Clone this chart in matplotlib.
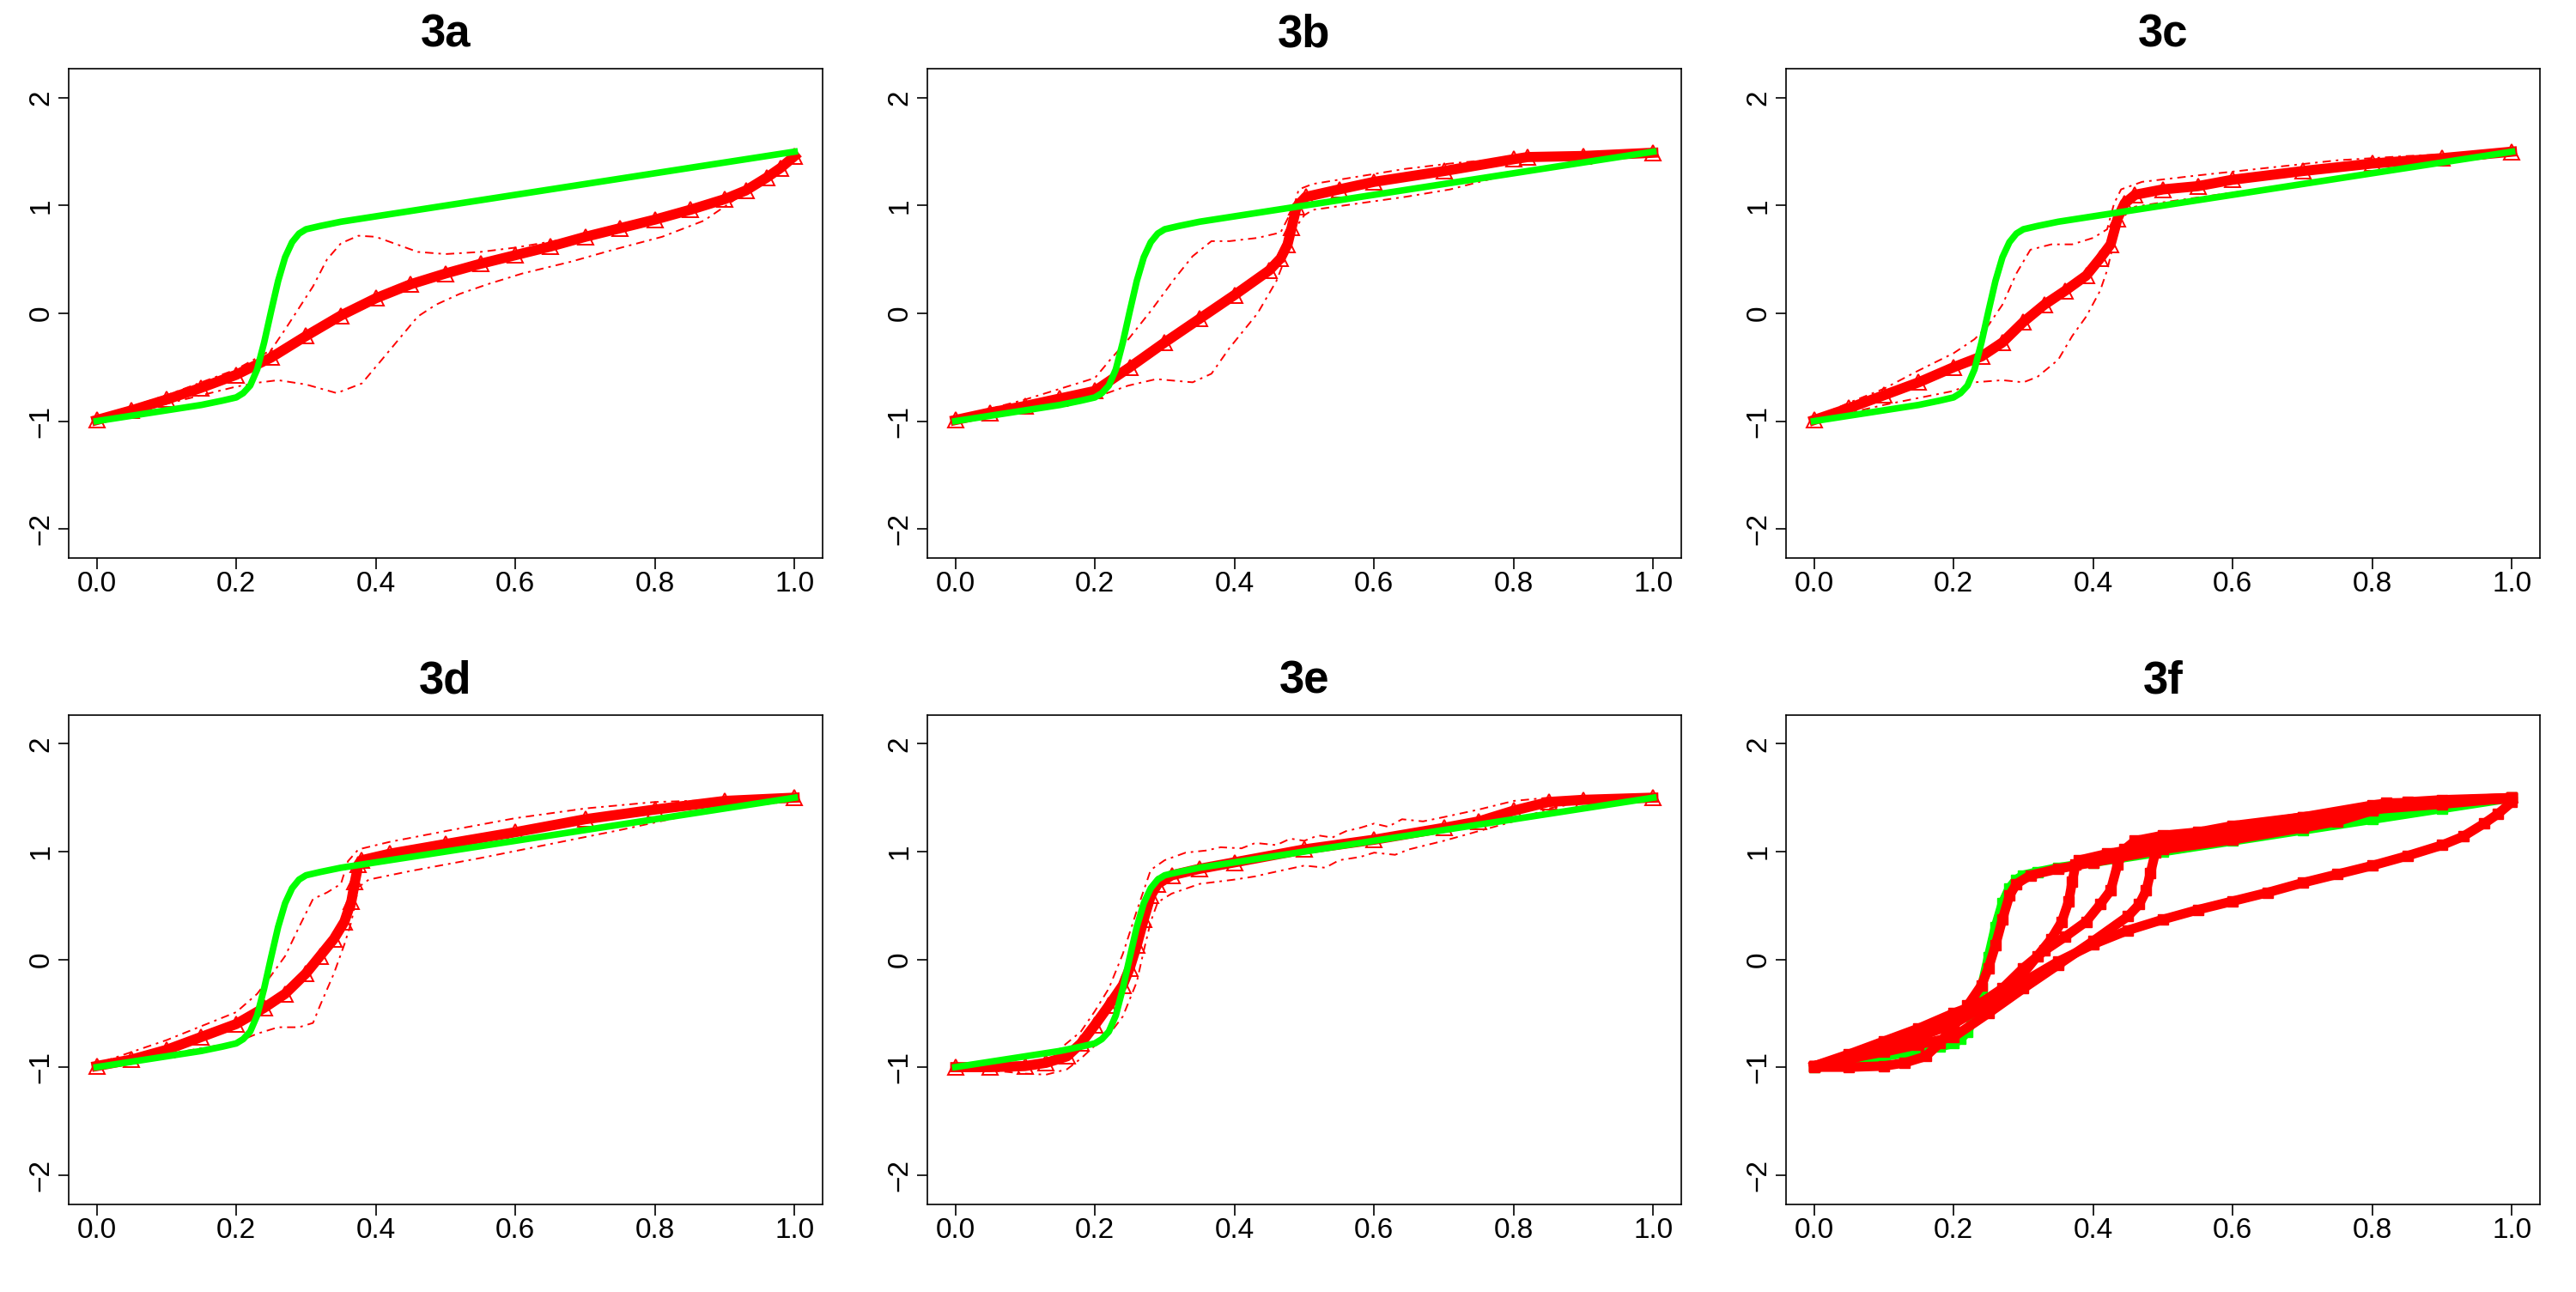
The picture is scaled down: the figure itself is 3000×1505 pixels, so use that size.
import matplotlib
matplotlib.use("Agg")
import matplotlib.pyplot as plt

plt.rcParams['font.family'] = ['Liberation Sans', 'DejaVu Sans']

# ---------------- data ----------------
TITLES = ["3a", "3b", "3c", "3d", "3e", "3f"]
X_TICKS = [0.0, 0.2, 0.4, 0.6, 0.8, 1.0]
X_LABELS = ["0.0", "0.2", "0.4", "0.6", "0.8", "1.0"]
Y_TICKS = [-2, -1, 0, 1, 2]
Y_LABELS = ["\u22122", "\u22121", "0", "1", "2"]

# true curve (green)
GX = [0.00, 0.05, 0.10, 0.15, 0.18, 0.20, 0.21, 0.22, 0.23, 0.24, 0.25, 0.26, 0.27,
      0.28, 0.29, 0.30, 0.32, 0.35, 0.40, 0.50, 0.60, 0.70, 0.80, 0.90, 1.00]
GY = [-1.00, -0.95, -0.90, -0.85, -0.81, -0.78, -0.74, -0.67, -0.52, -0.27, 0.02, 0.30, 0.52,
      0.66, 0.74, 0.78, 0.81, 0.85, 0.90, 1.00, 1.10, 1.20, 1.30, 1.40, 1.50]

# 3a
A_X = [0.00, 0.05, 0.10, 0.15, 0.20, 0.25, 0.30, 0.35, 0.40, 0.45, 0.50, 0.55, 0.60, 0.65,
       0.70, 0.75, 0.80, 0.85, 0.90, 0.93, 0.96, 0.98, 1.00]
A_EST = [-0.99, -0.90, -0.80, -0.69, -0.57, -0.41, -0.21, -0.02, 0.14, 0.27, 0.37, 0.46, 0.54,
         0.62, 0.71, 0.79, 0.87, 0.96, 1.06, 1.14, 1.26, 1.35, 1.46]
A_UX = [0.00, 0.10, 0.20, 0.25, 0.27, 0.29, 0.31, 0.33, 0.35, 0.375, 0.40, 0.43, 0.46, 0.50,
        0.55, 0.60, 0.70, 0.80, 0.85, 0.90, 0.95, 1.00]
A_UP = [-0.97, -0.76, -0.52, -0.34, -0.15, 0.05, 0.25, 0.50, 0.65, 0.72, 0.71, 0.64, 0.57, 0.55,
        0.57, 0.61, 0.72, 0.84, 0.94, 1.07, 1.24, 1.46]
A_LX = [0.00, 0.10, 0.20, 0.235, 0.26, 0.30, 0.344, 0.38, 0.406, 0.433, 0.46, 0.486, 0.52,
        0.56, 0.61, 0.68, 0.74, 0.81, 0.87, 0.92, 0.96, 1.00]
A_LO = [-1.00, -0.84, -0.68, -0.64, -0.62, -0.66, -0.74, -0.65, -0.45, -0.24, -0.03, 0.08, 0.18,
        0.27, 0.37, 0.48, 0.59, 0.71, 0.86, 1.08, 1.24, 1.46]

# 3b
B_X = [0.00, 0.05, 0.10, 0.15, 0.20, 0.25, 0.30, 0.35, 0.40, 0.45, 0.466, 0.476, 0.482, 0.489,
       0.502, 0.55, 0.60, 0.70, 0.80, 0.82, 0.90, 1.00]
B_EST = [-0.99, -0.92, -0.86, -0.79, -0.72, -0.50, -0.27, -0.05, 0.17, 0.40, 0.51, 0.64, 0.80,
         0.99, 1.08, 1.15, 1.22, 1.32, 1.43, 1.45, 1.46, 1.49]
B_UX = [0.00, 0.10, 0.20, 0.222, 0.248, 0.281, 0.314, 0.34, 0.367, 0.393, 0.433, 0.466, 0.485,
        0.492, 0.512, 0.578, 0.644, 0.709, 0.775, 0.81, 0.90, 1.00]
B_UP = [-0.97, -0.80, -0.60, -0.43, -0.24, 0.03, 0.32, 0.53, 0.67, 0.67, 0.70, 0.75, 0.99,
        1.15, 1.20, 1.27, 1.34, 1.39, 1.43, 1.46, 1.49, 1.52]
B_LX = [0.00, 0.10, 0.20, 0.248, 0.288, 0.34, 0.367, 0.393, 0.433, 0.46, 0.472, 0.486, 0.50,
        0.512, 0.578, 0.644, 0.709, 0.775, 0.81, 0.84, 0.907, 1.00]
B_LO = [-1.00, -0.90, -0.78, -0.67, -0.61, -0.64, -0.56, -0.32, 0.00, 0.30, 0.50, 0.78, 0.91,
        0.96, 1.02, 1.08, 1.15, 1.26, 1.31, 1.35, 1.42, 1.47]

# 3c
C_X = [0.00, 0.05, 0.10, 0.15, 0.20, 0.24, 0.27, 0.30, 0.33, 0.36, 0.39, 0.41, 0.425, 0.435,
       0.445, 0.46, 0.50, 0.55, 0.60, 0.70, 0.80, 0.90, 1.00]
C_EST = [-0.99, -0.88, -0.76, -0.64, -0.50, -0.40, -0.27, -0.08, 0.08, 0.21, 0.35, 0.51, 0.64,
         0.88, 1.02, 1.10, 1.15, 1.18, 1.24, 1.32, 1.39, 1.44, 1.50]
C_UX = [0.00, 0.05, 0.10, 0.15, 0.20, 0.23, 0.25, 0.27, 0.29, 0.31, 0.34, 0.37, 0.40, 0.42,
        0.43, 0.44, 0.47, 0.55, 0.65, 0.75, 0.85, 1.00]
C_UP = [-0.97, -0.83, -0.70, -0.53, -0.37, -0.24, -0.11, 0.08, 0.37, 0.59, 0.64, 0.64, 0.70,
        0.78, 1.02, 1.15, 1.22, 1.28, 1.35, 1.42, 1.46, 1.50]
C_LX = [0.00, 0.10, 0.20, 0.23, 0.27, 0.30, 0.32, 0.35, 0.37, 0.39, 0.41, 0.42, 0.43, 0.44,
        0.46, 0.50, 0.60, 0.70, 0.80, 0.90, 1.00]
C_LO = [-1.00, -0.85, -0.72, -0.64, -0.62, -0.64, -0.59, -0.43, -0.21, -0.03, 0.21, 0.40, 0.67,
        0.88, 0.99, 1.03, 1.12, 1.20, 1.30, 1.39, 1.47]

# 3d
D_X = [0.00, 0.05, 0.10, 0.15, 0.20, 0.24, 0.27, 0.30, 0.32, 0.34, 0.355, 0.365, 0.37, 0.375,
       0.38, 0.42, 0.50, 0.60, 0.70, 0.80, 0.90, 1.00]
D_EST = [-0.99, -0.93, -0.84, -0.72, -0.60, -0.45, -0.32, -0.13, 0.03, 0.19, 0.35, 0.54, 0.72,
         0.88, 0.92, 0.98, 1.07, 1.18, 1.30, 1.39, 1.47, 1.50]
D_UX = [0.00, 0.10, 0.20, 0.23, 0.25, 0.27, 0.29, 0.31, 0.33, 0.35, 0.36, 0.375, 0.42, 0.50,
        0.60, 0.70, 0.80, 0.90, 1.00]
D_UP = [-0.97, -0.75, -0.49, -0.32, -0.15, 0.03, 0.30, 0.56, 0.62, 0.70, 0.91, 1.02, 1.09, 1.19,
        1.31, 1.40, 1.46, 1.48, 1.51]
D_LX = [0.00, 0.10, 0.20, 0.23, 0.26, 0.29, 0.31, 0.32, 0.34, 0.355, 0.365, 0.375, 0.39, 0.45,
        0.55, 0.65, 0.75, 0.85, 0.90, 1.00]
D_LO = [-1.00, -0.88, -0.77, -0.69, -0.63, -0.63, -0.59, -0.43, -0.13, 0.14, 0.35, 0.67, 0.74,
        0.82, 0.94, 1.07, 1.20, 1.34, 1.40, 1.47]

# 3e
E_X = [0.00, 0.05, 0.10, 0.13, 0.16, 0.18, 0.20, 0.22, 0.24, 0.25, 0.26, 0.27, 0.28, 0.29,
       0.31, 0.35, 0.40, 0.50, 0.60, 0.70, 0.75, 0.80, 0.85, 0.90, 1.00]
E_EST = [-1.00, -1.00, -0.99, -0.96, -0.90, -0.78, -0.61, -0.43, -0.24, -0.08, 0.13, 0.37, 0.59,
         0.70, 0.78, 0.84, 0.90, 1.02, 1.11, 1.22, 1.28, 1.38, 1.46, 1.48, 1.50]
E_UX = [0.00, 0.10, 0.15, 0.18, 0.20, 0.22, 0.24, 0.26, 0.28, 0.30, 0.33, 0.36, 0.38, 0.41,
        0.43, 0.46, 0.48, 0.50, 0.52, 0.54, 0.56, 0.58, 0.60, 0.62, 0.64, 0.67, 0.70, 0.75,
        0.80, 0.85, 0.90, 1.00]
E_UP = [-0.98, -0.90, -0.83, -0.67, -0.48, -0.27, 0.05, 0.45, 0.83, 0.92, 0.99, 1.01, 1.04,
        1.03, 1.08, 1.06, 1.12, 1.10, 1.15, 1.13, 1.19, 1.22, 1.26, 1.23, 1.30, 1.28, 1.32,
        1.39, 1.47, 1.50, 1.50, 1.51]
E_LX = [0.00, 0.05, 0.10, 0.13, 0.16, 0.18, 0.20, 0.22, 0.24, 0.26, 0.27, 0.28, 0.29, 0.31,
        0.35, 0.40, 0.43, 0.45, 0.50, 0.53, 0.55, 0.58, 0.60, 0.63, 0.65, 0.70, 0.75, 0.80,
        0.85, 0.90, 1.00]
E_LO = [-1.02, -1.03, -1.06, -1.07, -1.02, -0.92, -0.80, -0.70, -0.53, -0.21, 0.08, 0.35, 0.53,
        0.61, 0.70, 0.74, 0.77, 0.80, 0.87, 0.85, 0.92, 0.95, 0.99, 0.97, 1.02, 1.10, 1.19,
        1.28, 1.40, 1.46, 1.49]

PANELS = [
    (A_X, A_EST, A_UX, A_UP, A_LX, A_LO),
    (B_X, B_EST, B_UX, B_UP, B_LX, B_LO),
    (C_X, C_EST, C_UX, C_UP, C_LX, C_LO),
    (D_X, D_EST, D_UX, D_UP, D_LX, D_LO),
    (E_X, E_EST, E_UX, E_UP, E_LX, E_LO),
]

# ---------------- drawing ----------------
RED = "#FF0000"
GREEN = "#00FF00"
W, H = 3000, 1505
fig = plt.figure(figsize=(30, 15.05), dpi=100)


def make_ax(col, row):
    left = (80 + 1000 * col) / W
    top = 80 + 752.5 * row
    bottom = top + 570
    return fig.add_axes([left, 1 - bottom / H, 878 / W, 570 / H])


def style(ax, title):
    ax.set_xlim(-0.04, 1.04)
    ax.set_ylim(-2.27, 2.27)
    ax.set_xticks(X_TICKS)
    ax.set_xticklabels(X_LABELS)
    ax.set_yticks(Y_TICKS)
    ax.set_yticklabels(Y_LABELS, rotation=90, va="center")
    ax.tick_params(direction="out", length=9, width=1.2, labelsize=24, colors="black")
    ax.tick_params(axis="x", pad=2)
    ax.tick_params(axis="y", pad=3)
    for s in ax.spines.values():
        s.set_linewidth(1.2)
    ax.set_title(title, fontsize=38, fontweight="bold", pad=18)


dash = (0, (1.5, 3, 5, 3))
for i in range(6):
    ax = make_ax(i % 3, i // 3)
    if i < 5:
        x, est, ux, up, lx, lo = PANELS[i]
        ax.plot(ux, up, color=RED, lw=1.4, ls=dash, zorder=2)
        ax.plot(lx, lo, color=RED, lw=1.4, ls=dash, zorder=2)
        ax.plot(x, est, color=RED, lw=8.5, zorder=3)
        ax.plot(x, est, ls="none", marker="^", ms=13, mfc="none", mec=RED, mew=1.4, zorder=3)
        ax.plot(GX, GY, color=GREEN, lw=5.5, zorder=4)
    else:
        ax.plot(GX, GY, color=GREEN, lw=8, marker="s", ms=8, zorder=2)
        for p in PANELS:
            ax.plot(p[0], p[1], color=RED, lw=8, marker="s", ms=8, zorder=3)
    style(ax, TITLES[i])

fig.savefig("out.png", dpi=100)
